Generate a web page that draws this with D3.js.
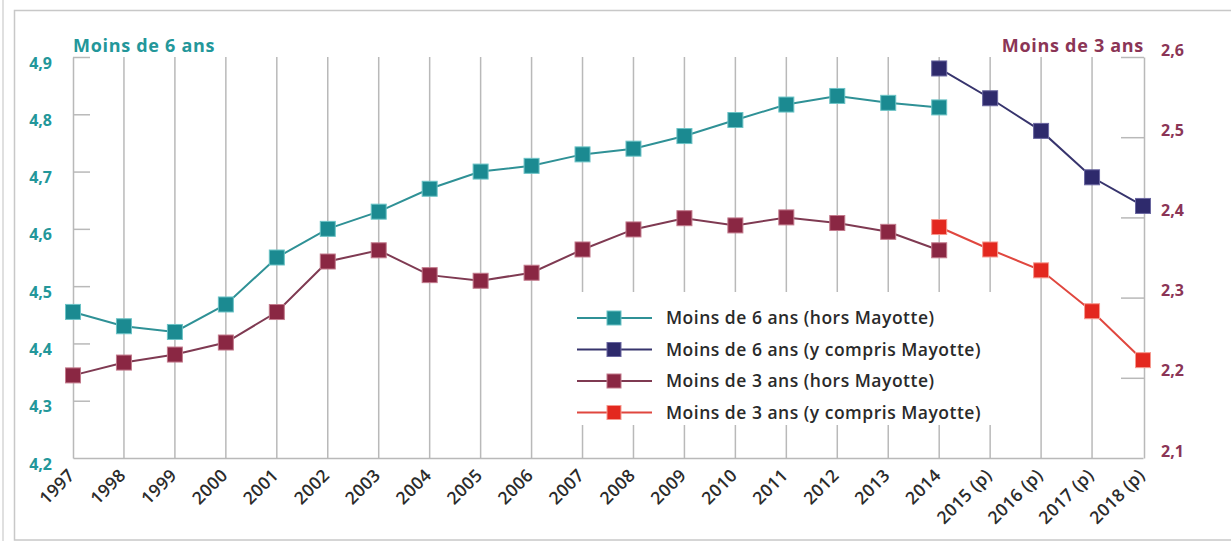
<!DOCTYPE html>
<html>
<head>
<meta charset="utf-8">
<script src="https://cdn.jsdelivr.net/npm/d3@7"></script>
<style>
  html, body { margin: 0; padding: 0; background: #fff; }
  svg { display: block; font-family: "Open Sans", Lato, sans-serif; }
</style>
</head>
<body>
<svg id="chart" width="1231" height="541"></svg>
<script>
// Years on the horizontal axis (p = provisional)
const years = ["1997","1998","1999","2000","2001","2002","2003","2004","2005","2006",
  "2007","2008","2009","2010","2011","2012","2013","2014",
  "2015 (p)","2016 (p)","2017 (p)","2018 (p)"];

// Under 6, excluding Mayotte (left axis), 1997–2014
const sixHors = [4.455, 4.43, 4.42, 4.468, 4.55, 4.60, 4.63, 4.67, 4.70, 4.71,
  4.73, 4.74, 4.762, 4.79, 4.817, 4.832, 4.82, 4.812];
// Under 6, including Mayotte (left axis), 2014–2018
const sixAvec = [4.88, 4.828, 4.771, 4.69, 4.64];
// Under 3, excluding Mayotte (right axis), 1997–2014
const troisHors = [2.203, 2.219, 2.229, 2.244, 2.282, 2.345, 2.359, 2.328, 2.321, 2.331,
  2.36, 2.385, 2.399, 2.39, 2.40, 2.393, 2.382, 2.359];
// Under 3, including Mayotte (right axis), 2014–2018
const troisAvec = [2.388, 2.36, 2.334, 2.283, 2.222];

const leftTicks = [4.2, 4.3, 4.4, 4.5, 4.6, 4.7, 4.8, 4.9];
const rightTicks = [2.1, 2.2, 2.3, 2.4, 2.5, 2.6];

const legendLabels = [
  "Moins de 6 ans (hors Mayotte)",
  "Moins de 6 ans (y compris Mayotte)",
  "Moins de 3 ans (hors Mayotte)",
  "Moins de 3 ans (y compris Mayotte)"
];

const teal = "#1b8a91", tealLine = "#2f9196";
const navy = "#2e2a6c", navyLine = "#37346d";
const maroon = "#8a2743", maroonLine = "#7f3a52";
const red = "#e3281f", redLine = "#e0473f";
const leftColor = "#23979a", rightColor = "#8b3556";
const gridColor = "#b9b9b9";

const svg = d3.select("#chart");
const fmt = d => d3.format(".1f")(d).replace(".", ",");

// frame
svg.append("rect").attr("x", 14.5).attr("y", 10.5).attr("width", 1230).attr("height", 529.5)
  .attr("fill", "none").attr("stroke", "#c8c8c8").attr("stroke-width", 1.5);
svg.append("line").attr("x1", 3).attr("x2", 3).attr("y1", 0).attr("y2", 541)
  .attr("stroke", "#d6d6d6").attr("stroke-width", 1.5);

const x = d3.scalePoint().domain(years).range([73, 1143]);
const yL = d3.scaleLinear().domain([4.2, 4.9]).range([458, 57]);
const yR = d3.scaleLinear().domain([2.1, 2.6]).range([458, 57]);

// vertical grid lines
svg.append("g").selectAll("line").data(years.slice(1, -1)).join("line")
  .attr("x1", d => x(d)).attr("x2", d => x(d))
  .attr("y1", yL(4.9)).attr("y2", yL(4.2))
  .attr("stroke", gridColor).attr("stroke-width", 1.5);

// white box behind the legend
svg.append("rect").attr("x", 565).attr("y", 292).attr("width", 440).attr("height", 133).attr("fill", "#fff");

// left axis
const gL = svg.append("g").attr("transform", `translate(${x(years[0])},0)`)
  .call(d3.axisLeft(yL).tickValues(leftTicks).tickSize(-17).tickSizeOuter(0).tickPadding(21).tickFormat(fmt));
gL.selectAll("path, line").attr("stroke", gridColor).attr("stroke-width", 1.5);
gL.select(".tick line").remove();
gL.selectAll("text").attr("y", 6).attr("fill", leftColor)
  .style("font-size", "16px").style("font-weight", 700).style("font-family", "'Open Sans', sans-serif");

// right axis
const gR = svg.append("g").attr("transform", `translate(${x(years[years.length - 1]) + 1},0)`)
  .call(d3.axisRight(yR).tickValues(rightTicks).tickSize(-23).tickSizeOuter(0).tickPadding(17).tickFormat(fmt));
gR.selectAll("path, line").attr("stroke", gridColor).attr("stroke-width", 1.5);
gR.select(".tick line").remove();
gR.selectAll("text").attr("y", -7).attr("fill", rightColor)
  .style("font-size", "16px").style("font-weight", 700).style("font-family", "'Open Sans', sans-serif");

// bottom axis
const gX = svg.append("g").attr("transform", `translate(0,${yL(4.2)})`)
  .call(d3.axisBottom(x).tickSize(0).tickSizeOuter(0).tickPadding(0));
gX.select(".domain").attr("stroke", gridColor).attr("stroke-width", 1.5);
gX.selectAll("text").attr("text-anchor", "end").attr("dy", "0.35em")
  .attr("transform", "translate(-2,14) rotate(-45)")
  .attr("fill", "#2b2b2b").style("font-size", "17.5px").style("font-weight", 600)
  .style("letter-spacing", "0.3px")
  .style("font-family", "'Open Sans', sans-serif");

// axis titles
svg.append("text").attr("x", 73).attr("y", 52).text("Moins de 6 ans")
  .attr("fill", leftColor).style("font-size", "18px").style("font-weight", 700)
  .style("letter-spacing", "0.7px");
svg.append("text").attr("x", 1144).attr("y", 52).attr("text-anchor", "end").text("Moins de 3 ans")
  .attr("fill", rightColor).style("font-size", "18px").style("font-weight", 700)
  .style("letter-spacing", "0.7px");

// series
const series = [
  { yrs: years.slice(0, 18), vals: sixHors, y: yL, fill: teal, line: tealLine, edge: "#6cc3c6" },
  { yrs: years.slice(17), vals: sixAvec, y: yL, fill: navy, line: navyLine, edge: "#6a67a0" },
  { yrs: years.slice(0, 18), vals: troisHors, y: yR, fill: maroon, line: maroonLine, edge: "#c27a8c" },
  { yrs: years.slice(17), vals: troisAvec, y: yR, fill: red, line: redLine, edge: "#f59a90" }
];

const ms = 15;
series.forEach(s => {
  const pts = s.yrs.map((yr, i) => [x(yr), s.y(s.vals[i])]);
  svg.append("path").attr("d", d3.line()(pts)).attr("fill", "none")
    .attr("stroke", s.line).attr("stroke-width", 2);
  svg.append("g").selectAll("rect").data(pts).join("rect")
    .attr("x", d => d[0] - ms / 2).attr("y", d => d[1] - ms / 2)
    .attr("width", ms).attr("height", ms)
    .attr("fill", s.fill).attr("stroke", s.edge).attr("stroke-width", 1);
});

// legend
const lg = svg.append("g");
series.forEach((s, i) => {
  const yy = 318 + i * 31.5;
  lg.append("line").attr("x1", 577).attr("x2", 652).attr("y1", yy).attr("y2", yy)
    .attr("stroke", s.line).attr("stroke-width", 2);
  lg.append("rect").attr("x", 614 - 7).attr("y", yy - 7).attr("width", 14).attr("height", 14)
    .attr("fill", s.fill).attr("stroke", s.edge).attr("stroke-width", 1);
  lg.append("text").attr("x", 666).attr("y", yy).attr("dy", "0.35em").text(legendLabels[i])
    .attr("fill", "#2a2a2a").style("font-size", "17.5px").style("font-weight", 600)
    .style("letter-spacing", "0.5px");
});
</script>
</body>
</html>
